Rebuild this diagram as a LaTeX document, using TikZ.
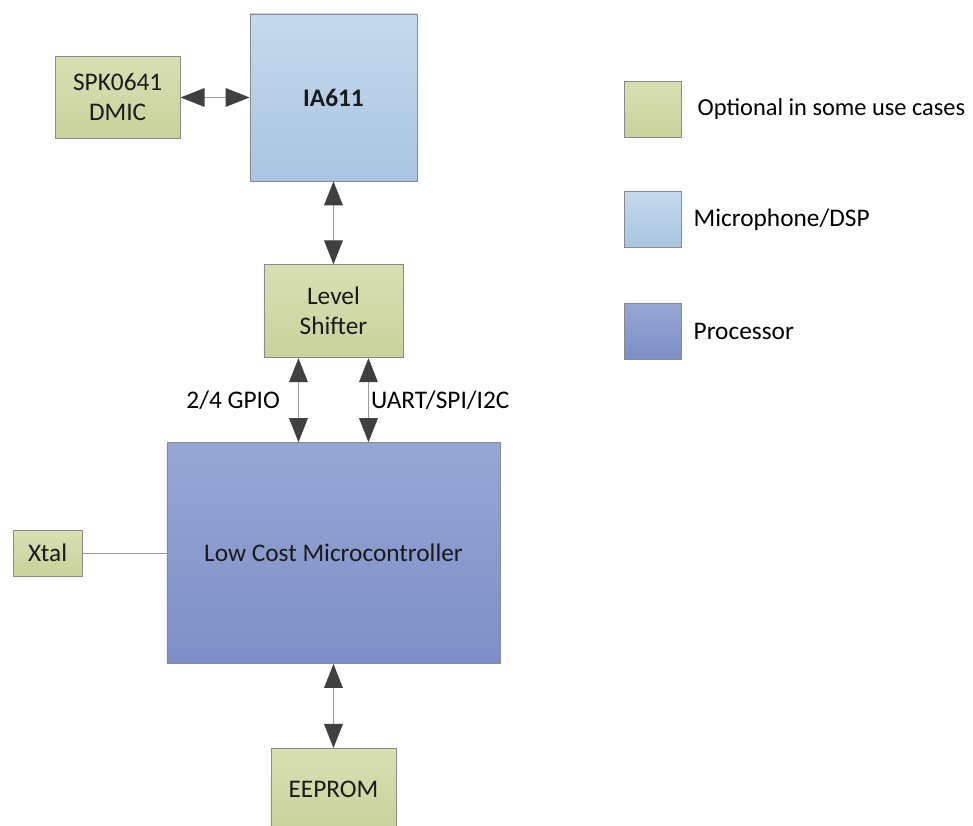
\documentclass[tikz,border=0pt]{standalone}
\usepackage{fontspec}
\setmainfont{Carlito}
\usetikzlibrary{arrows.meta,positioning}

\definecolor{optTop}{HTML}{D8E0B3}
\definecolor{optBot}{HTML}{C8D29B}
\definecolor{dspTop}{HTML}{C6D9EC}
\definecolor{dspBot}{HTML}{A8C5E2}
\definecolor{cpuTop}{HTML}{97A6D4}
\definecolor{cpuBot}{HTML}{7D8FC7}
\definecolor{edgegray}{HTML}{8A8A8A}
\definecolor{linegray}{HTML}{9A9A9A}
\definecolor{headgray}{HTML}{404040}
\definecolor{textblack}{HTML}{1A1A1A}

\begin{document}
\begin{tikzpicture}[
  box/.style={draw=edgegray, line width=0.6pt, inner sep=0pt, align=center, text=textblack},
  optbox/.style={box, top color=optTop, bottom color=optBot},
  dspbox/.style={box, top color=dspTop, bottom color=dspBot},
  cpubox/.style={box, top color=cpuTop, bottom color=cpuBot},
  link/.style={draw=linegray, line width=0.9pt,
    {Triangle[length=18pt,width=14pt,color=headgray]}-{Triangle[length=18pt,width=14pt,color=headgray]}},
  font=\fontsize{19}{22.5}\selectfont
]
\useasboundingbox (0,0) rectangle (729.75pt,-618.75pt);

\node [dspbox, minimum width=125.25pt, minimum height=125.25pt] (ia) at (250.1pt,-73.1pt) {\textbf{IA611}};
\node [optbox, minimum width=93.75pt, minimum height=61.5pt, left=51.75pt of ia] (dmic) {SPK0641\\DMIC};
\node [optbox, minimum width=104.25pt, minimum height=69.75pt, below=62.25pt of ia] (ls) {Level\\Shifter};
\node [cpubox, minimum width=249.75pt, minimum height=165.75pt, below=63pt of ls] (mcu) {Low Cost Microcontroller};
\node [optbox, minimum width=51.75pt, minimum height=34.5pt, left=63pt of mcu] (xtal) {Xtal};
\node [optbox, minimum width=93.75pt, minimum height=61.5pt, below=63pt of mcu] (eeprom) {EEPROM};

\node [optbox, minimum width=42.75pt, minimum height=42pt] (keyopt) at (489.4pt,-82.1pt) {};
\node [dspbox, minimum width=42.75pt, minimum height=42pt, below=40pt of keyopt] (keydsp) {};
\node [cpubox, minimum width=42.75pt, minimum height=42pt, below=41pt of keydsp] (keycpu) {};
\node [right=12pt of keyopt, inner sep=0pt, font=\fontsize{18.3}{22}\selectfont] (txtopt) {Optional in some use cases};
\node [right=9pt of keydsp, inner sep=0pt] (txtdsp) {Microphone/DSP};
\node [right=9pt of keycpu, inner sep=0pt] (txtcpu) {Processor};

\draw [link] (dmic.east) -- (dmic.east -| ia.west);
\draw [link] (ia) -- (ls);
\draw [link] ([xshift=-26.25pt]ls.south) -- ([xshift=-26.25pt]ls.south |- mcu.north)
  node [midway, left=13.5pt, inner sep=0pt] (gpio) {2/4 GPIO};
\draw [link] ([xshift=26.25pt]ls.south) -- ([xshift=26.25pt]ls.south |- mcu.north)
  node [midway, right=1.5pt, inner sep=0pt] (bus) {UART/SPI/I2C};
\draw [link] (mcu) -- (eeprom);
\draw [draw=linegray, line width=0.6pt] (xtal) -- (mcu);
\end{tikzpicture}
\end{document}
